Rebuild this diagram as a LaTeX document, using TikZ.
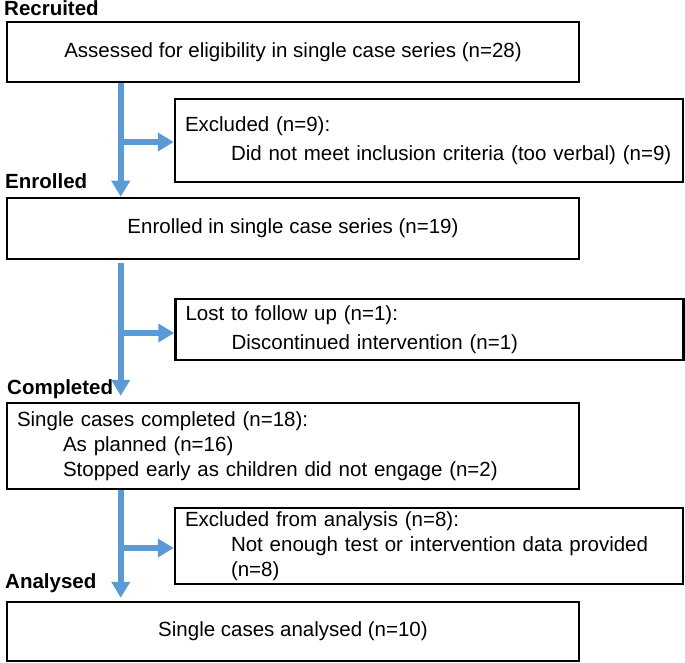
\documentclass[tikz,border=0pt]{standalone}
\usepackage{fontspec}
\setmainfont{Liberation Sans}
\usetikzlibrary{arrows.meta}
\definecolor{flowblue}{RGB}{91,155,213}

\begin{document}
\begin{tikzpicture}[x=1pt,y=-1pt,
    stage/.style={draw,line width=2.5pt,minimum width=572pt,minimum height=#1,inner sep=0pt,align=center,font=\fontsize{20.5}{25}\selectfont},
    stageleft/.style={draw,line width=2.5pt,minimum height=#1,inner xsep=10pt,inner ysep=0pt,text width=552pt,align=left,font=\fontsize{20.5}{25}\selectfont},
    side/.style={draw,line width=2.5pt,minimum height=#1,inner xsep=10pt,inner ysep=0pt,text width=488pt,align=left,font=\fontsize{20.5}{25}\selectfont},
    phase/.style={anchor=base west,inner sep=0pt,font=\bfseries\fontsize{20.5}{25}\selectfont},
    flow/.style={draw=flowblue,line width=6pt,-{Triangle[width=18pt,length=16pt]}}]
    \useasboundingbox (0,0) rectangle (685,663);
    % phases
    \node[phase] (recruited) at (4,16) {Recruited};
    \node[phase] (enrolled) at (5,189) {Enrolled};
    \node[phase] (completed) at (7,394) {Completed};
    \node[phase] (analysed) at (5,588) {Analysed};
    % main boxes
    \node[stage=60pt] (assess) at (293,52) {Assessed for eligibility in single case series (n=28)};
    \node[stage=61pt] (enrol) at (293,228.5) {Enrolled in single case series (n=19)};
    \node[stageleft=86pt] (done) at (293,446) {Single cases completed (n=18):\\
        \hspace*{46pt}As planned (n=16)\\
        \hspace*{46pt}Stopped early as children did not engage (n=2)};
    \node[stage=59pt] (result) at (293,631.5) {Single cases analysed (n=10)};
    % side boxes
    \node[side=83pt] (excl) at (429,140.5) {Excluded (n=9):\\[4pt]
        \hspace*{46pt}Did not meet inclusion criteria (too verbal) (n=9)};
    \node[side=61pt] (lost) at (429.5,329.5) {Lost to follow up (n=1):\\[4pt]
        \hspace*{46pt}Discontinued intervention (n=1)};
    \node[side=76pt] (notused) at (429,546) {Excluded from analysis (n=8):\\
        \hspace*{46pt}Not enough test or intervention data provided\\
        \hspace*{46pt}(n=8)};
    % arrows
    \draw[flow] ([xshift=115pt]assess.south west) -- ([xshift=115pt]enrol.north west);
    \draw[flow,shorten <=3pt,shorten >=6pt] ([xshift=115pt]enrol.south west) -- ([xshift=115pt]done.north west);
    \draw[flow,shorten >=3pt] ([xshift=115pt]done.south west) -- ([xshift=115pt]result.north west);
    \coordinate (split1) at (119,142);
    \coordinate (split2) at (119,333);
    \coordinate (split3) at (119,548);
    \draw[flow] (split1) -- (split1 -| excl.west);
    \draw[flow] (split2) -- (split2 -| lost.west);
    \draw[flow] (split3) -- (split3 -| notused.west);
\end{tikzpicture}
\end{document}
